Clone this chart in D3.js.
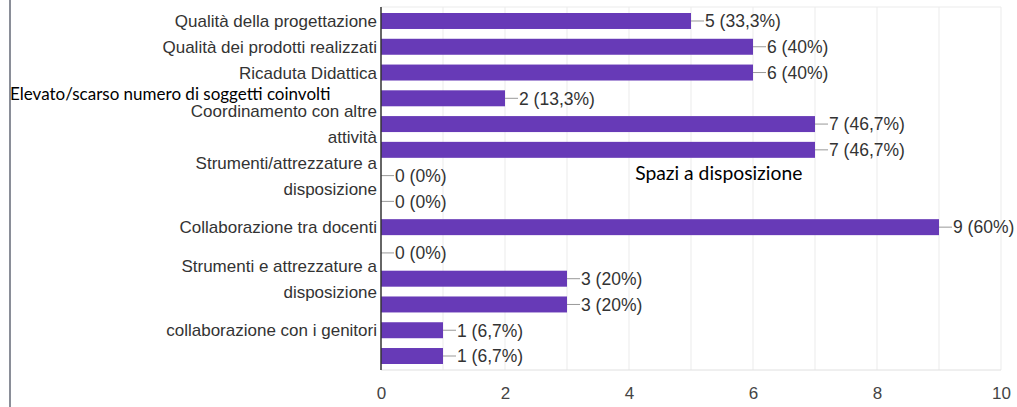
<!DOCTYPE html>
<html>
<head>
    <meta charset="utf-8">
    <script src="https://d3js.org/d3.v7.min.js"></script>
    <style>
        body { margin: 0; background: #fff; }
        .cat { font: 17px "Liberation Sans", Arial, sans-serif; fill: #333; text-anchor: end; }
        .val { font: 17.5px "Liberation Sans", Arial, sans-serif; fill: #333; }
        .tick text { font: 17px "Liberation Sans", Arial, sans-serif; fill: #444; }
        .note { font-family: Lato, "Open Sans", sans-serif; fill: #000; }
    </style>
</head>
<body>
    <svg width="1017" height="407"></svg>
    <script>
        // rows as they appear top to bottom; "|" marks a wrapped label, "" = no label
        var categories = [
            "Qualità della progettazione",
            "Qualità dei prodotti realizzati",
            "Ricaduta Didattica",
            "",
            "Coordinamento con altre|attività",
            "",
            "Strumenti/attrezzature a|disposizione",
            "",
            "Collaborazione tra docenti",
            "",
            "Strumenti e attrezzature a|disposizione",
            "",
            "collaborazione con i genitori",
            ""
        ];
        var counts = [5, 6, 6, 2, 7, 7, 0, 0, 9, 0, 3, 3, 1, 1];
        var percents = ["33,3%", "40%", "40%", "13,3%", "46,7%", "46,7%", "0%", "0%", "60%", "0%", "20%", "20%", "6,7%", "6,7%"];
        var xTicks = [0, 2, 4, 6, 8, 10];
        var gridValues = [1, 2, 3, 4, 5, 6, 7, 8, 9, 10];
        // text pasted over the picture
        var notes = ["Elevato/scarso numero di soggetti coinvolti", "Spazi a disposizione"];

        var svg = d3.select("svg"),
            plotLeft = 381, plotRight = 1001, plotTop = 7, plotBottom = 370;

        var x = d3.scaleLinear().domain([0, 10]).range([plotLeft, plotRight]);
        var y = d3.scaleBand()
            .domain(d3.range(categories.length))
            .range([plotTop, plotBottom])
            .paddingInner(0.38)
            .paddingOuter(0.233);

        // page border on the left
        svg.append("line")
            .attr("x1", 10).attr("x2", 10)
            .attr("y1", 0).attr("y2", 407)
            .attr("stroke", "#8a8e98")
            .attr("stroke-width", 2);

        // grid
        svg.append("g").selectAll("line")
            .data(gridValues)
            .enter().append("line")
            .attr("x1", function(d) { return x(d); })
            .attr("x2", function(d) { return x(d); })
            .attr("y1", plotTop).attr("y2", plotBottom)
            .attr("stroke", "#ebebeb");

        svg.append("line")
            .attr("x1", plotLeft).attr("x2", plotRight)
            .attr("y1", plotTop).attr("y2", plotTop)
            .attr("stroke", "#ebebeb");
        svg.append("line")
            .attr("x1", plotLeft).attr("x2", plotRight)
            .attr("y1", plotBottom).attr("y2", plotBottom)
            .attr("stroke", "#e0e0e0");

        // bars
        svg.append("g").selectAll("rect")
            .data(counts)
            .enter().append("rect")
            .attr("x", x(0))
            .attr("y", function(d, i) { return y(i); })
            .attr("width", function(d) { return x(d) - x(0); })
            .attr("height", y.bandwidth())
            .attr("fill", "#673ab7");

        // value callouts
        var val = svg.append("g").selectAll("g")
            .data(counts)
            .enter().append("g")
            .attr("transform", function(d, i) { return "translate(" + x(d) + "," + (y(i) + y.bandwidth() / 2) + ")"; });

        val.append("line")
            .attr("x1", 0).attr("x2", 13)
            .attr("stroke", "#999")
            .attr("stroke-width", 1);

        val.append("text")
            .attr("class", "val")
            .attr("x", 14)
            .attr("dy", "0.36em")
            .text(function(d, i) { return d + " (" + percents[i] + ")"; });

        // y axis line
        svg.append("line")
            .attr("x1", plotLeft).attr("x2", plotLeft)
            .attr("y1", plotTop).attr("y2", plotBottom)
            .attr("stroke", "#333")
            .attr("stroke-width", 1.5);

        // category labels
        var step = y.step();
        svg.append("g").selectAll("text")
            .data(categories)
            .enter().append("text")
            .attr("class", "cat")
            .attr("x", plotLeft - 4)
            .attr("y", function(d, i) { return y(i) + y.bandwidth() / 2; })
            .each(function(d) {
                var lines = d.split("|");
                var t = d3.select(this);
                lines.forEach(function(s, k) {
                    t.append("tspan")
                        .attr("x", plotLeft - 4)
                        .attr("dy", k === 0 ? ((-(lines.length - 1) / 2) * step + 6) : step)
                        .text(s);
                });
            });

        // x axis ticks
        var xAxis = d3.axisBottom(x).tickValues(xTicks).tickSize(0).tickPadding(17);
        svg.append("g")
            .attr("transform", "translate(0," + plotBottom + ")")
            .call(xAxis)
            .call(function(g) { g.select(".domain").remove(); });

        // pasted notes
        svg.append("text")
            .attr("class", "note")
            .style("font-size", "17px")
            .attr("x", 10)
            .attr("y", y(3) + y.bandwidth() / 2 + 1.5)
            .text(notes[0]);

        svg.append("text")
            .attr("class", "note")
            .style("font-size", "19.3px")
            .attr("x", x(4.1))
            .attr("y", y(6) + y.bandwidth() / 2 + 4.5)
            .text(notes[1]);
    </script>
</body>
</html>
